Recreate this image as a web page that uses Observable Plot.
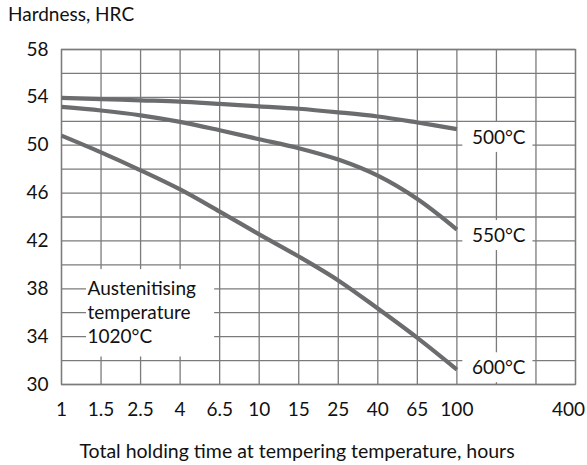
<!DOCTYPE html>
<html>
<head>
<meta charset="utf-8">
<script src="https://cdn.jsdelivr.net/npm/d3@7"></script>
<script src="https://cdn.jsdelivr.net/npm/@observablehq/plot@0.6"></script>
<style>
  body { margin: 0; background: #fff; }
  #chart svg { display: block; }
</style>
</head>
<body>
<div id="chart"></div>
<script>
// Nominal (logarithmic, equally spaced) time steps on the x axis, in hours
const timeSteps = [1, 1.5, 2.5, 4, 6.5, 10, 15, 25, 40, 65, 100, 160, 250, 400];
const labelledSteps = [1, 1.5, 2.5, 4, 6.5, 10, 15, 25, 40, 65, 100, 400];
const yTicks = [30, 34, 38, 42, 46, 50, 54, 58];

// Curve sample times (hours) and hardness (HRC)
const hours = [1, 1.5, 2.5, 4, 6.5, 10, 15, 25, 40, 65, 100];
const hrc500 = [53.95, 53.85, 53.75, 53.65, 53.45, 53.25, 53.05, 52.75, 52.4, 51.9, 51.35];
const hrc550 = [53.2, 52.9, 52.5, 51.95, 51.25, 50.5, 49.75, 48.8, 47.45, 45.5, 42.95];
const hrc600 = [50.8, 49.4, 47.9, 46.3, 44.45, 42.55, 40.7, 38.7, 36.35, 33.9, 31.25];

const seriesNames = ["500°C", "550°C", "600°C"];
const seriesValues = [hrc500, hrc550, hrc600];
const seriesLabelHrc = [50.65, 42.45, 31.4];

const noteLines = ["Austenitising", "temperature", "1020°C"];
const noteHrc = [38, 36, 34];

const stepIndex = h => timeSteps.indexOf(h);

const curves = seriesNames.flatMap((name, s) =>
  hours.map((h, i) => ({series: name, x: stepIndex(h), hrc: seriesValues[s][i]})));
const endLabels = seriesNames.map((name, s) => ({label: name, x: stepIndex(100), hrc: seriesLabelHrc[s]}));
const notes = noteLines.map((t, i) => ({text: t, hrc: noteHrc[i]}));

const gridColor = "#7b7b7b";
const lineColor = "#6b6c6e";
const font = "Lato, 'Open Sans', sans-serif";
const fs = 19;

const plot = Plot.plot({
  width: 587,
  height: 465,
  marginLeft: 61,
  marginRight: 12,
  marginTop: 49,
  marginBottom: 81,
  style: {fontFamily: font, fontSize: fs + "px", color: "#111", background: "#fff"},
  x: {type: "linear", domain: [0, timeSteps.length - 1]},
  y: {domain: [30, 58]},
  marks: [
    Plot.gridX(d3.range(timeSteps.length), {stroke: gridColor, strokeOpacity: 1, strokeWidth: 1.3}),
    Plot.gridY(d3.range(30, 59, 2), {stroke: gridColor, strokeOpacity: 1, strokeWidth: 1.3}),
    Plot.frame({stroke: gridColor, strokeWidth: 1.3}),
    // white boxes behind the curve labels
    Plot.rect(endLabels, {x1: d => d.x, x2: d => d.x + 2, y1: d => d.hrc - 1.25, y2: d => d.hrc + 1.25,
      fill: "white", insetLeft: 6, insetRight: 3}),
    // white box behind the note
    Plot.rect([notes], {x1: 0, x2: 4, y1: 32.3, y2: 39.6, fill: "white", insetLeft: 25, insetRight: 5}),
    Plot.line(curves, {x: "x", y: "hrc", z: "series", stroke: lineColor, strokeWidth: 4.2,
      curve: "catmull-rom", strokeLinecap: "butt"}),
    Plot.text(endLabels, {x: "x", y: "hrc", text: "label", textAnchor: "start", dx: 15, fontSize: fs, fill: "#111"}),
    Plot.text(notes, {x: 0, y: "hrc", text: "text", textAnchor: "start", dx: 26, fontSize: fs, fill: "#111"}),
    Plot.axisY(yTicks, {tickSize: 0, tickPadding: 13, fontSize: fs, label: null, fill: "#111"}),
    Plot.axisX(labelledSteps.filter(v => v !== 400).map(stepIndex), {tickSize: 0, tickPadding: 18, fontSize: fs,
      tickFormat: i => String(timeSteps[i]), label: null, fill: "#111"}),
    Plot.axisX([stepIndex(400)], {tickSize: 0, tickPadding: 18, fontSize: fs, dx: -7,
      tickFormat: i => String(timeSteps[i]), label: null, fill: "#111"})
  ]
});

const svg = d3.select(plot);
svg.append("text")
  .attr("x", 8).attr("y", 21).attr("text-anchor", "start")
  .attr("font-family", font).attr("font-size", 19).attr("fill", "#111")
  .text("Hardness, HRC");
svg.append("text")
  .attr("x", 297).attr("y", 458).attr("text-anchor", "middle")
  .attr("font-family", font).attr("font-size", 19.5).attr("fill", "#111")
  .text("Total holding time at tempering temperature, hours");

document.getElementById("chart").append(plot);
</script>
</body>
</html>
